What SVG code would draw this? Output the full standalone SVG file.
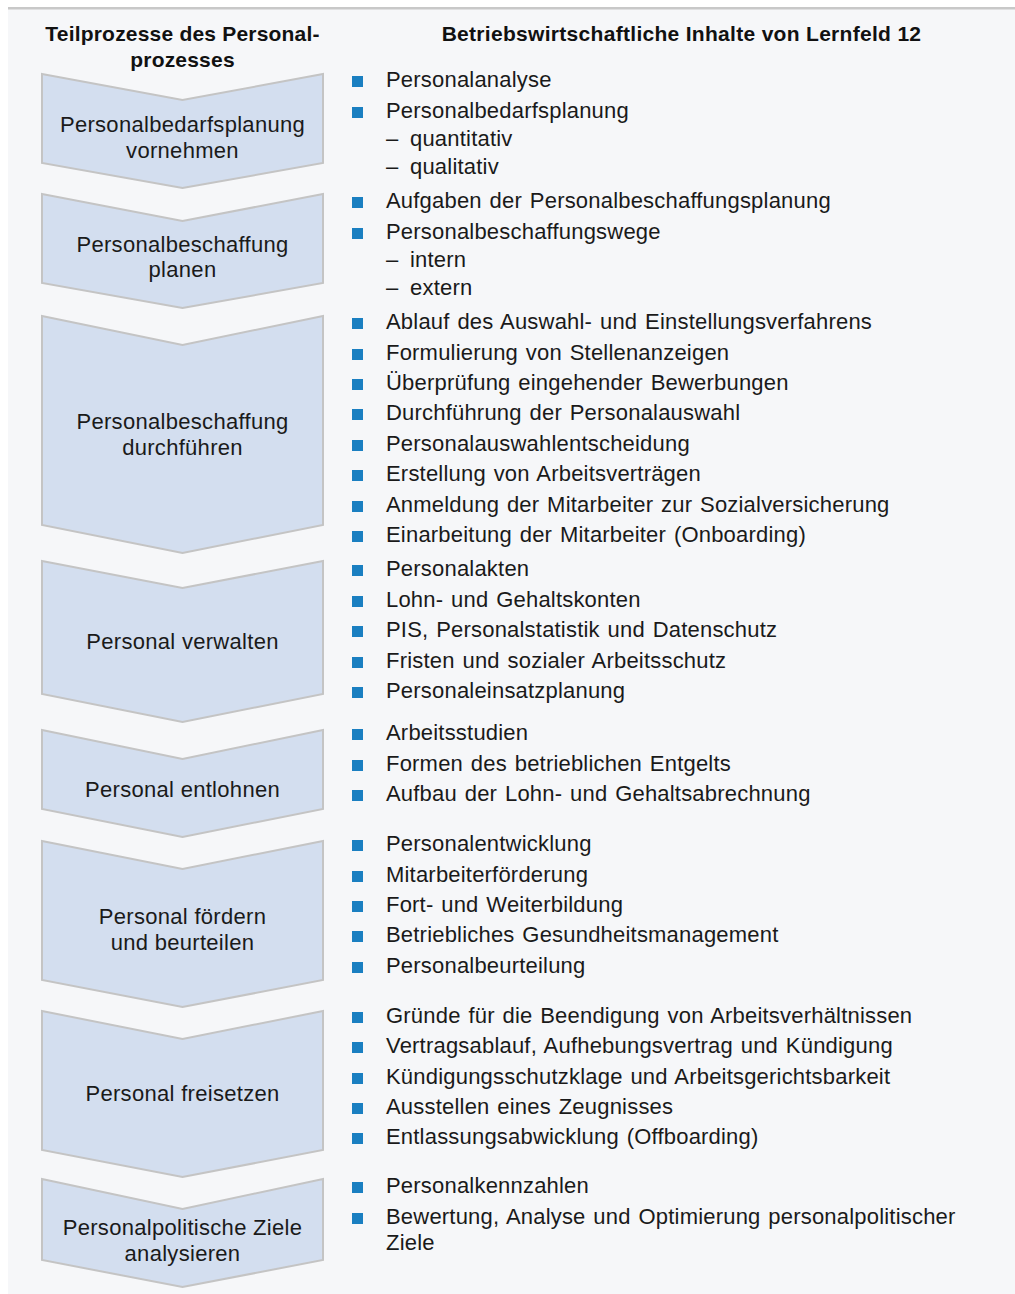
<svg xmlns="http://www.w3.org/2000/svg" width="1015" height="1294" viewBox="0 0 1015 1294">
<style>
.bg{fill:#f6f7f9}
.chev{fill:#d3deef;stroke:#c4c4c4;stroke-width:2;stroke-linejoin:miter}
.hd{font-family:"Liberation Sans",Arial,sans-serif;font-weight:bold;font-size:21px;letter-spacing:0.2px;fill:#111;text-anchor:middle}
.hdr{letter-spacing:0.3px}
.cl{font-family:"Liberation Sans",Arial,sans-serif;font-size:22px;letter-spacing:0.3px;fill:#1a1a1a;text-anchor:middle}
.it{font-family:"Liberation Sans",Arial,sans-serif;font-size:22px;letter-spacing:0.2px;word-spacing:1.5px;fill:#1a1a1a}
.bu{fill:#1a7fc1}
</style>
<defs>
<rect id="b" class="bu" width="11" height="11"/>
</defs>
<rect x="0" y="0" width="1015" height="1294" fill="#ffffff"/>
<rect class="bg" x="8" y="8" width="1007" height="1286"/>
<rect x="8" y="7" width="1007" height="2.5" fill="#c8c8c8"/>
<g id="headers">
<text class="hd" x="182.5" y="41">Teilprozesse des Personal-</text>
<text class="hd" x="182.5" y="67">prozesses</text>
<text class="hd hdr" x="681.5" y="41">Betriebswirtschaftliche Inhalte von Lernfeld 12</text>
</g>
<g id="connectors"></g>
<g id="n1">
<path class="chev" d="M42,74 L182.5,100 L323,74 L323,163 L182.5,188 L42,163 Z"/>
<text class="cl" x="182.5" y="132">Personalbedarfsplanung</text>
<text class="cl" x="182.5" y="158">vornehmen</text>
</g>
<g id="n2">
<path class="chev" d="M42,194 L182.5,221 L323,194 L323,283 L182.5,308 L42,283 Z"/>
<text class="cl" x="182.5" y="252">Personalbeschaffung</text>
<text class="cl" x="182.5" y="277">planen</text>
</g>
<g id="n3">
<path class="chev" d="M42,316 L182.5,345 L323,316 L323,525 L182.5,553 L42,525 Z"/>
<text class="cl" x="182.5" y="429">Personalbeschaffung</text>
<text class="cl" x="182.5" y="455">durchführen</text>
</g>
<g id="n4">
<path class="chev" d="M42,561 L182.5,588 L323,561 L323,694 L182.5,722 L42,694 Z"/>
<text class="cl" x="182.5" y="649">Personal verwalten</text>
</g>
<g id="n5">
<path class="chev" d="M42,730 L182.5,759 L323,730 L323,809 L182.5,837 L42,809 Z"/>
<text class="cl" x="182.5" y="797">Personal entlohnen</text>
</g>
<g id="n6">
<path class="chev" d="M42,841 L182.5,869 L323,841 L323,980 L182.5,1007 L42,980 Z"/>
<text class="cl" x="182.5" y="924">Personal fördern</text>
<text class="cl" x="182.5" y="950">und beurteilen</text>
</g>
<g id="n7">
<path class="chev" d="M42,1011 L182.5,1039 L323,1011 L323,1150 L182.5,1177 L42,1150 Z"/>
<text class="cl" x="182.5" y="1101">Personal freisetzen</text>
</g>
<g id="n8">
<path class="chev" d="M42,1179 L182.5,1209 L323,1179 L323,1260 L182.5,1287 L42,1260 Z"/>
<text class="cl" x="182.5" y="1235">Personalpolitische Ziele</text>
<text class="cl" x="182.5" y="1261">analysieren</text>
</g>
<g id="list1">
<use href="#b" x="352" y="76"/><text class="it" x="386" y="87">Personalanalyse</text>
<use href="#b" x="352" y="107"/><text class="it" x="386" y="118">Personalbedarfsplanung</text>
<text class="it" x="386" y="146">–</text><text class="it" x="410" y="146">quantitativ</text>
<text class="it" x="386" y="174">–</text><text class="it" x="410" y="174">qualitativ</text>
</g>
<g id="list2">
<use href="#b" x="352" y="197"/><text class="it" x="386" y="208">Aufgaben der Personalbeschaffungsplanung</text>
<use href="#b" x="352" y="228"/><text class="it" x="386" y="239">Personalbeschaffungswege</text>
<text class="it" x="386" y="267">–</text><text class="it" x="410" y="267">intern</text>
<text class="it" x="386" y="295">–</text><text class="it" x="410" y="295">extern</text>
</g>
<g id="list3">
<use href="#b" x="352" y="318"/><text class="it" x="386" y="329">Ablauf des Auswahl- und Einstellungsverfahrens</text>
<use href="#b" x="352" y="349"/><text class="it" x="386" y="360">Formulierung von Stellenanzeigen</text>
<use href="#b" x="352" y="379"/><text class="it" x="386" y="390">Überprüfung eingehender Bewerbungen</text>
<use href="#b" x="352" y="409"/><text class="it" x="386" y="420">Durchführung der Personalauswahl</text>
<use href="#b" x="352" y="440"/><text class="it" x="386" y="451">Personalauswahlentscheidung</text>
<use href="#b" x="352" y="470"/><text class="it" x="386" y="481">Erstellung von Arbeitsverträgen</text>
<use href="#b" x="352" y="501"/><text class="it" x="386" y="512">Anmeldung der Mitarbeiter zur Sozialversicherung</text>
<use href="#b" x="352" y="531"/><text class="it" x="386" y="542">Einarbeitung der Mitarbeiter (Onboarding)</text>
</g>
<g id="list4">
<use href="#b" x="352" y="565"/><text class="it" x="386" y="576">Personalakten</text>
<use href="#b" x="352" y="596"/><text class="it" x="386" y="607">Lohn- und Gehaltskonten</text>
<use href="#b" x="352" y="626"/><text class="it" x="386" y="637">PIS, Personalstatistik und Datenschutz</text>
<use href="#b" x="352" y="657"/><text class="it" x="386" y="668">Fristen und sozialer Arbeitsschutz</text>
<use href="#b" x="352" y="687"/><text class="it" x="386" y="698">Personaleinsatzplanung</text>
</g>
<g id="list5">
<use href="#b" x="352" y="729"/><text class="it" x="386" y="740">Arbeitsstudien</text>
<use href="#b" x="352" y="760"/><text class="it" x="386" y="771">Formen des betrieblichen Entgelts</text>
<use href="#b" x="352" y="790"/><text class="it" x="386" y="801">Aufbau der Lohn- und Gehaltsabrechnung</text>
</g>
<g id="list6">
<use href="#b" x="352" y="840"/><text class="it" x="386" y="851">Personalentwicklung</text>
<use href="#b" x="352" y="871"/><text class="it" x="386" y="882">Mitarbeiterförderung</text>
<use href="#b" x="352" y="901"/><text class="it" x="386" y="912">Fort- und Weiterbildung</text>
<use href="#b" x="352" y="931"/><text class="it" x="386" y="942">Betriebliches Gesundheitsmanagement</text>
<use href="#b" x="352" y="962"/><text class="it" x="386" y="973">Personalbeurteilung</text>
</g>
<g id="list7">
<use href="#b" x="352" y="1012"/><text class="it" x="386" y="1023">Gründe für die Beendigung von Arbeitsverhältnissen</text>
<use href="#b" x="352" y="1042"/><text class="it" x="386" y="1053">Vertragsablauf, Aufhebungsvertrag und Kündigung</text>
<use href="#b" x="352" y="1073"/><text class="it" x="386" y="1084">Kündigungsschutzklage und Arbeitsgerichtsbarkeit</text>
<use href="#b" x="352" y="1103"/><text class="it" x="386" y="1114">Ausstellen eines Zeugnisses</text>
<use href="#b" x="352" y="1133"/><text class="it" x="386" y="1144">Entlassungsabwicklung (Offboarding)</text>
</g>
<g id="list8">
<use href="#b" x="352" y="1182"/><text class="it" x="386" y="1193">Personalkennzahlen</text>
<use href="#b" x="352" y="1213"/><text class="it" x="386" y="1224">Bewertung, Analyse und Optimierung personalpolitischer</text>
<text class="it" x="386" y="1250">Ziele</text>
</g>
</svg>
